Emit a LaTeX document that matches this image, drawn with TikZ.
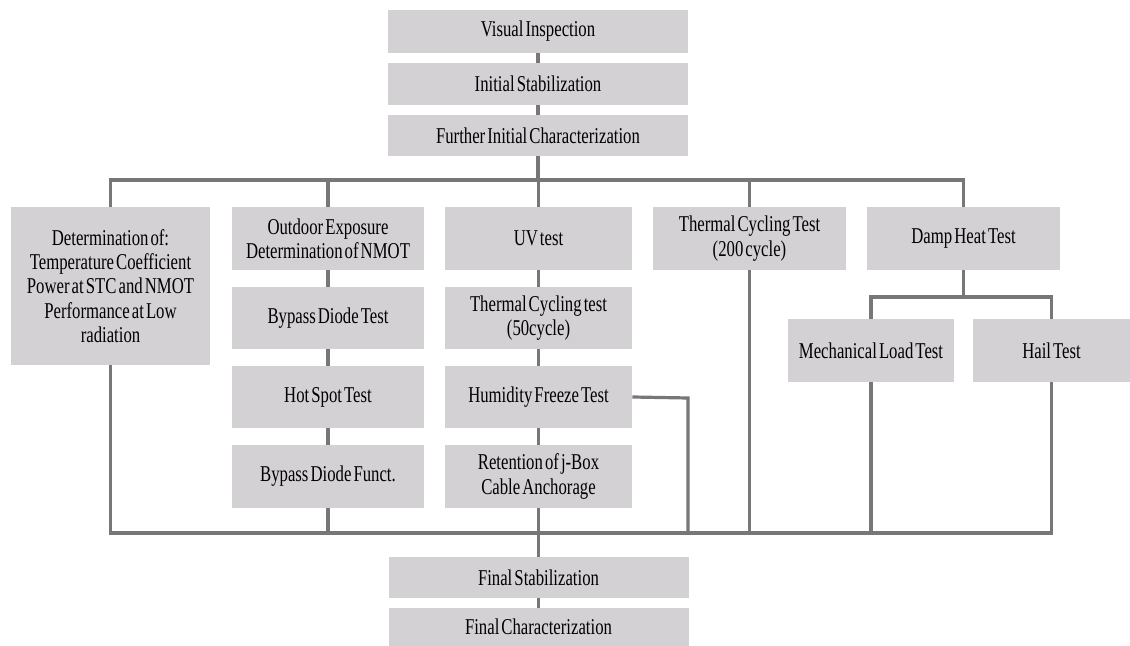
\documentclass[tikz,border=0pt]{standalone}
\usepackage{fontspec}
\setmainfont{Liberation Serif}[FakeStretch=0.74,WordSpace=0.5]
\definecolor{boxgray}{RGB}{211,209,211}
\definecolor{linegray}{RGB}{120,118,119}
\tikzset{
  box/.style={fill=boxgray, inner sep=0pt, align=center, font=\fontsize{11.3}{12.2}\selectfont},
  line/.style={draw=linegray, line width=1.6pt}
}
\begin{document}
\begin{tikzpicture}[x=0.5pt,y=-0.5pt]
\useasboundingbox (0,0) rectangle (1130,646);
\node[box, minimum width=150pt, minimum height=21.5pt] (vi) at (538,31.5) {Visual Inspection};
\node[box, minimum width=150pt, minimum height=21pt] (is) at (538,84) {Initial Stabilization};
\node[box, minimum width=150pt, minimum height=20.5pt] (fic) at (538,135.5) {Further Initial Characterization};
\node[box, minimum width=99.5pt, minimum height=79pt] (det) at (110.5,286) {Determination of:\\Temperature Coefficient\\Power at STC and NMOT\\Performance at Low\\radiation};
\node[box, minimum width=96pt, minimum height=31.5pt] (out) at (328,238.5) {Outdoor Exposure\\Determination of NMOT};
\node[box, minimum width=96pt, minimum height=31pt] (byp) at (328,318) {Bypass Diode Test};
\node[box, minimum width=96pt, minimum height=31pt] (hot) at (328,397) {Hot Spot Test};
\node[box, minimum width=96pt, minimum height=31.5pt] (bdf) at (328,476.5) {Bypass Diode Funct.};
\node[box, minimum width=93.5pt, minimum height=31.5pt] (uv) at (538.5,238.5) {UV test};
\node[box, minimum width=93.5pt, minimum height=31pt] (tc50) at (538.5,318) {Thermal Cycling test\\(50cycle)};
\node[box, minimum width=93.5pt, minimum height=31pt] (hf) at (538.5,397) {Humidity Freeze Test};
\node[box, minimum width=93.5pt, minimum height=31.5pt] (ret) at (538.5,476.5) {Retention of j-Box\\Cable Anchorage};
\node[box, minimum width=96.5pt, minimum height=31.5pt] (tc200) at (749.5,238.5) {Thermal Cycling Test\\(200 cycle)};
\node[box, minimum width=96.5pt, minimum height=31.5pt] (damp) at (963.5,238.5) {Damp Heat Test};
\node[box, minimum width=83pt, minimum height=31.5pt] (mech) at (871,350.5) {Mechanical Load Test};
\node[box, minimum width=78.5pt, minimum height=31.5pt] (hail) at (1051.5,350.5) {Hail Test};
\node[box, minimum width=150pt, minimum height=20.5pt] (fs) at (538.5,577.5) {Final Stabilization};
\node[box, minimum width=150pt, minimum height=19pt] (fc) at (538.5,627) {Final Characterization};
\coordinate (topY) at (0,180);
\coordinate (subY) at (0,297);
\coordinate (botY) at (0,533);
\coordinate (hfR) at (688,398);
\draw[line] (vi) -- (is);
\draw[line] (is) -- (fic);
\draw[line] (fic) -- (fic |- topY);
\draw[line] (det.north) -- (det.north |- topY) -- (damp.north |- topY) -- (damp.north);
\draw[line] (out.north) -- (out.north |- topY);
\draw[line] (uv.north) -- (uv.north |- topY);
\draw[line] (tc200.north) -- (tc200.north |- topY);
\draw[line] (out) -- (byp);
\draw[line] (byp) -- (hot);
\draw[line] (hot) -- (bdf);
\draw[line] (uv) -- (tc50);
\draw[line] (tc50) -- (hf);
\draw[line] (hf) -- (ret);
\draw[line] (damp.south) -- (damp.south |- subY);
\draw[line] (mech.north) -- (mech.north |- subY) -- (hail.north |- subY) -- (hail.north);
\draw[line] (det.south) -- (det.south |- botY) -- (hail.south |- botY) -- (hail.south);
\draw[line] (bdf.south) -- (bdf.south |- botY);
\draw[line] (tc200.south) -- (tc200.south |- botY);
\draw[line] (mech.south) -- (mech.south |- botY);
\draw[line] (hf.east) -- (hfR) -- (hfR |- botY);
\draw[line] (ret) -- (fs);
\draw[line] (fs) -- (fc);
\end{tikzpicture}
\end{document}
